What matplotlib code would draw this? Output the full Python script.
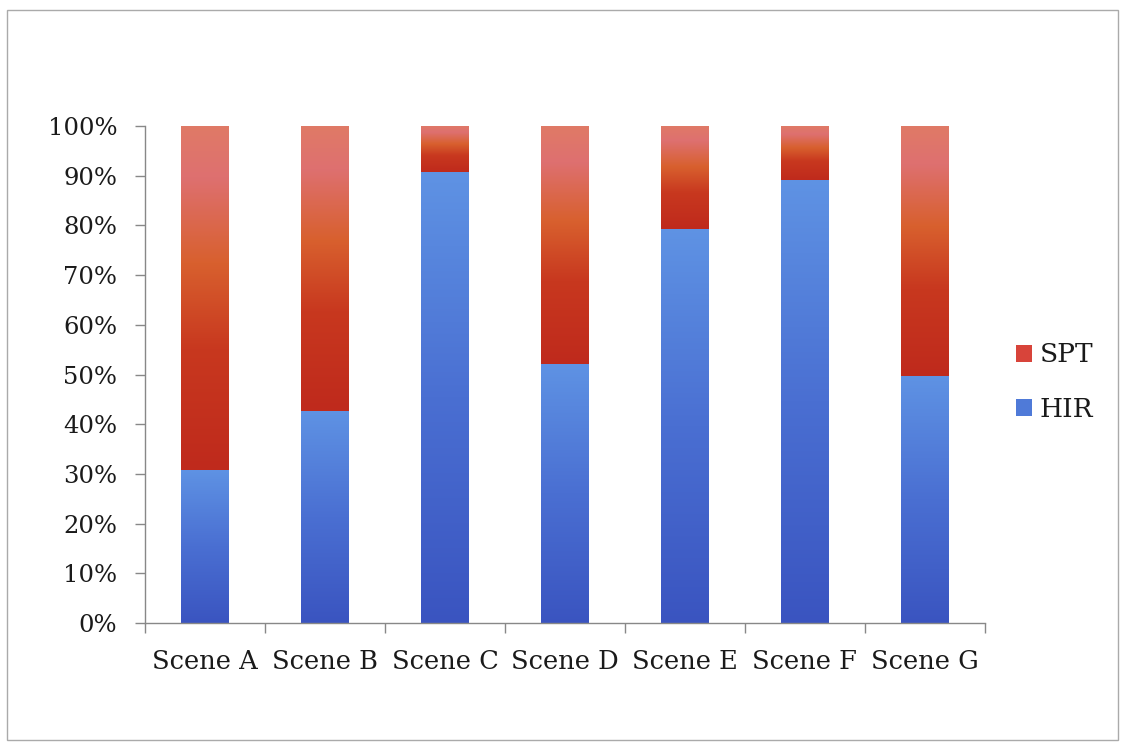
import matplotlib
matplotlib.use("Agg")
import matplotlib.pyplot as plt
import numpy as np
from matplotlib.colors import LinearSegmentedColormap
from matplotlib.patches import Rectangle, Patch
from matplotlib.ticker import MultipleLocator, FuncFormatter, FixedLocator

categories = ["Scene A", "Scene B", "Scene C", "Scene D", "Scene E", "Scene F", "Scene G"]
hir = [31, 43, 91, 52.5, 79.5, 89.5, 50]
spt = [100 - v for v in hir]

plt.rcParams['font.family'] = ['DejaVu Serif']

fig = plt.figure(figsize=(11.23, 7.46), dpi=100)
ax = fig.add_axes([145/1123, 1 - 623/746, (985-145)/1123, (623-126)/746])

x = np.arange(len(categories))
w = 0.4
b1 = ax.bar(x, hir, width=w, color="none", edgecolor="none")
b2 = ax.bar(x, spt, width=w, bottom=hir, color="none", edgecolor="none")

blue_cmap = LinearSegmentedColormap.from_list("b", ["#3a54c0", "#4a6fd2", "#5f93e4"])
red_cmap = LinearSegmentedColormap.from_list("r", [
    (0.0, "#bf2a1c"), (0.35, "#c8381f"), (0.6, "#d8602e"),
    (0.85, "#de7070"), (1.0, "#e07a66")])

grad = np.linspace(0, 1, 256).reshape(-1, 1)
for bars, cmap in ((b1, blue_cmap), (b2, red_cmap)):
    for p in bars:
        x0, y0 = p.get_x(), p.get_y()
        ww, hh = p.get_width(), p.get_height()
        im = ax.imshow(grad, cmap=cmap, origin="lower", aspect="auto",
                       extent=(x0, x0 + ww, y0 - 0.3, y0 + hh), interpolation="bicubic", zorder=2)

ax.set_xlim(-0.5, len(categories) - 0.5)
ax.set_ylim(0, 100)
ax.yaxis.set_major_locator(MultipleLocator(10))
ax.yaxis.set_major_formatter(FuncFormatter(lambda v, _: f"{int(v)}%"))
ax.set_xticks(x)
ax.set_xticklabels(categories)
ax.tick_params(axis="x", which="major", length=0, pad=19, labelsize=18.5, labelcolor="#1a1a1a")
ax.xaxis.set_minor_locator(FixedLocator(np.arange(-0.5, len(categories), 1.0)))
ax.tick_params(axis="x", which="minor", length=7, color="#888888", width=1)
ax.tick_params(axis="y", length=7, color="#888888", width=1, labelsize=17.5,
               labelcolor="#1a1a1a", pad=13)
for s in ("top", "right"):
    ax.spines[s].set_visible(False)
for s in ("left", "bottom"):
    ax.spines[s].set_color("#888888")
    ax.spines[s].set_linewidth(1)
    ax.spines[s].set_zorder(3)

handles = [Patch(facecolor="#d8443a", edgecolor="none", label="SPT"),
           Patch(facecolor="#4f7ad8", edgecolor="none", label="HIR")]
leg = fig.legend(handles=handles, loc="center left", bbox_to_anchor=(1016/1123, 1 - 382/746),
                 frameon=False, fontsize=19, handlelength=0.6, handleheight=0.6,
                 handletextpad=0.3, labelspacing=1.1, borderaxespad=0, borderpad=0)
for t in leg.get_texts():
    t.set_color("#1a1a1a")

fig.patches.append(Rectangle((7/1123, 1 - 740/746), (1118-7)/1123, (740-10)/746,
                             transform=fig.transFigure, fill=False, edgecolor="#aaaaaa", lw=1))

fig.savefig("out.png", dpi=100)
